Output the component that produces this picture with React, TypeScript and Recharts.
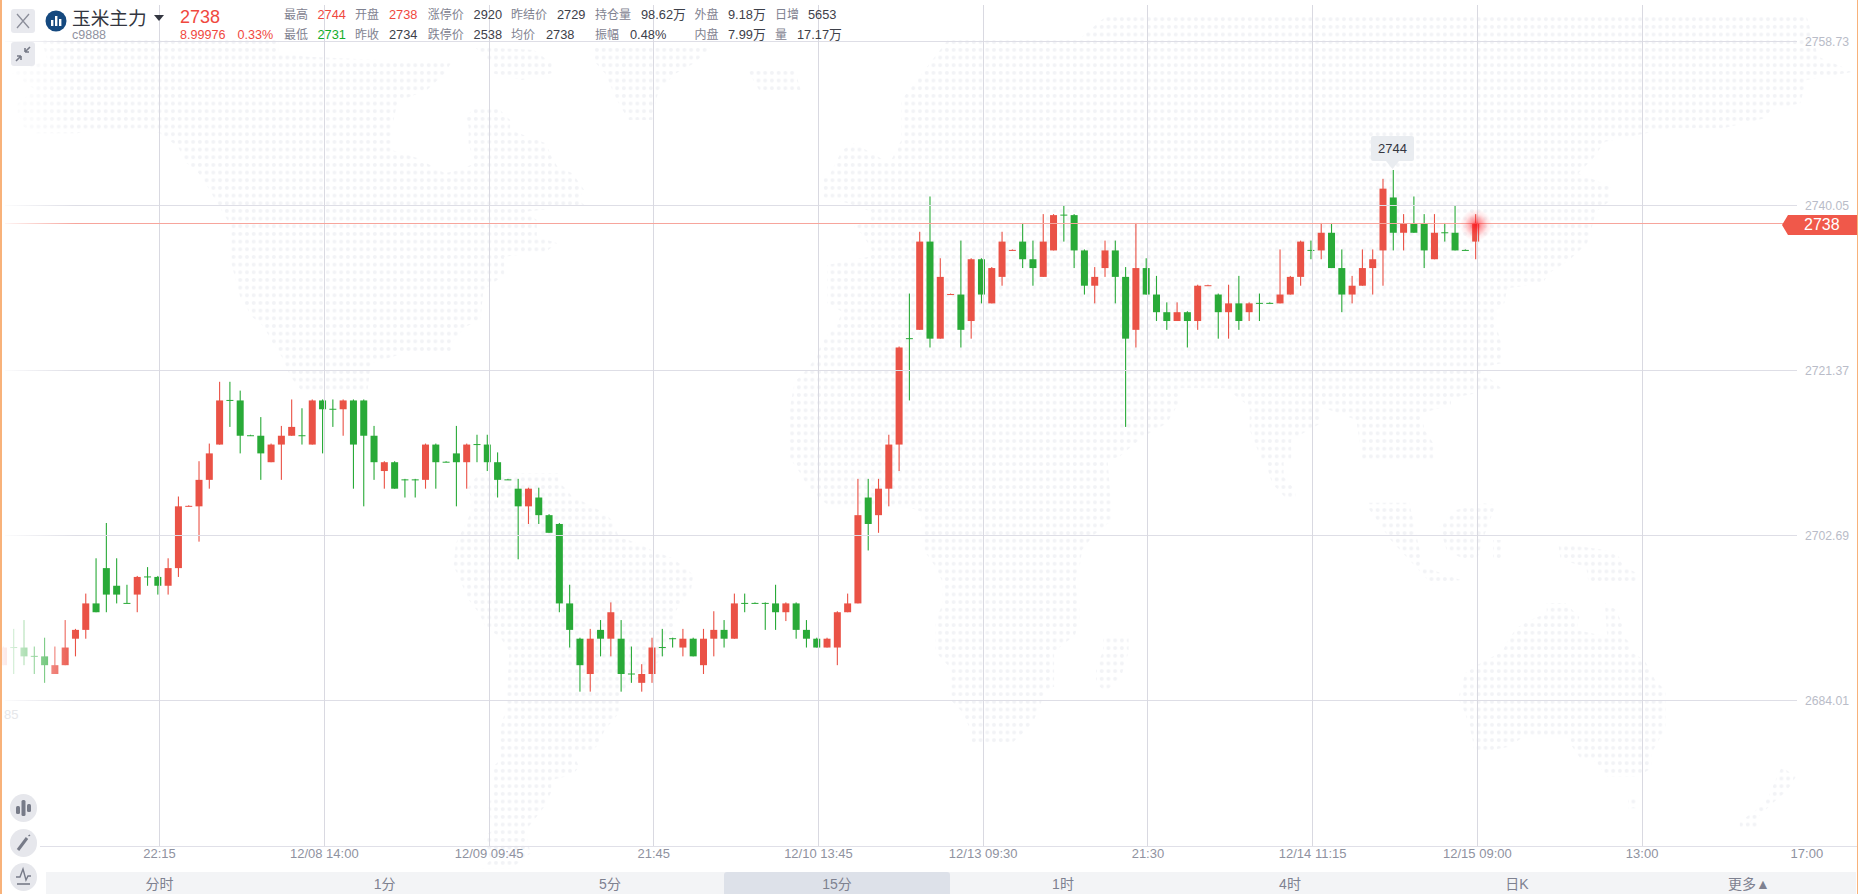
import React from "react";
import { ComposedChart, Bar, XAxis, YAxis, ReferenceLine } from "recharts";

// ---------- chart data ----------
const opens = [2688,2690,2690,2689,2689,2687,2688,2691,2692,2695,2699,2697,2695,2696,2698,2698,2697,2699,2706,2706,2709,2713,2718,2718,2714,2714,2711,2713,2714,2714,2713,2718,2717,2717,2718,2718,2714,2710,2711,2709,2709,2709,2713,2711,2712,2711,2713,2713,2711,2709,2708,2706,2707,2705,2704,2695,2691,2687,2692,2691,2691,2687,2686,2687,2690,2691,2690,2691,2688,2691,2692,2691,2695,2695,2695,2695,2694,2695,2692,2691,2690,2690,2694,2695,2707,2705,2708,2713,2725,2726,2736,2725,2730,2730,2727,2734,2729,2732,2735,2736,2734,2732,2735,2739,2739,2735,2731,2733,2735,2732,2726,2733,2730,2728,2727,2728,2727,2731,2730,2728,2729,2728,2729,2729,2729,2730,2732,2735,2735,2737,2733,2730,2731,2733,2735,2741,2737,2738,2738,2734,2737,2737,2735,2736];
const closes = [2690,2690,2689,2689,2688,2688,2690,2692,2695,2694,2696,2696,2695,2698,2698,2697,2699,2706,2706,2709,2712,2718,2718,2714,2714,2712,2713,2714,2715,2714,2718,2717,2717,2718,2713,2714,2711,2711,2708,2709,2709,2713,2711,2711,2711,2713,2713,2711,2709,2709,2706,2708,2705,2703,2695,2692,2688,2691,2691,2694,2687,2687,2687,2690,2690,2691,2691,2689,2691,2692,2691,2695,2695,2695,2695,2694,2695,2692,2691,2690,2691,2694,2695,2705,2704,2708,2713,2724,2725,2736,2725,2732,2730,2726,2734,2730,2733,2736,2735,2734,2733,2736,2739,2739,2735,2731,2732,2735,2732,2725,2733,2730,2728,2727,2728,2727,2731,2731,2728,2729,2727,2729,2729,2729,2730,2732,2736,2735,2737,2733,2730,2731,2733,2734,2742,2737,2738,2737,2735,2737,2737,2735,2735,2738];
const highs = [2690,2692,2693,2690,2691,2690,2693,2692,2696,2700,2704,2700,2697,2698,2699,2698,2700,2707,2706,2711,2713,2720,2720,2719,2714,2716,2713,2715,2718,2717,2718,2718,2718,2718,2718,2718,2715,2711,2711,2709,2709,2713,2713,2711,2715,2713,2714,2714,2712,2709,2709,2708,2708,2705,2704,2697,2691,2692,2693,2695,2693,2690,2688,2691,2692,2691,2692,2691,2692,2694,2693,2696,2696,2695,2695,2697,2695,2695,2693,2691,2691,2694,2696,2709,2709,2709,2714,2724,2730,2737,2741,2734,2730,2736,2734,2734,2733,2737,2735,2738,2736,2739,2739,2740,2739,2735,2733,2736,2736,2733,2738,2734,2732,2729,2729,2728,2731,2731,2730,2731,2732,2729,2730,2729,2735,2732,2736,2736,2738,2738,2735,2732,2735,2735,2743,2744,2739,2741,2739,2739,2738,2740,2735,2739];
const lows = [2688,2687,2688,2687,2686,2687,2688,2689,2691,2694,2694,2695,2695,2694,2697,2696,2696,2698,2706,2702,2708,2713,2715,2712,2714,2709,2711,2709,2714,2713,2713,2712,2715,2714,2708,2706,2709,2708,2708,2707,2707,2708,2708,2711,2706,2708,2711,2710,2707,2709,2700,2704,2704,2703,2694,2690,2685,2685,2689,2689,2685,2686,2685,2686,2689,2690,2689,2689,2687,2689,2690,2691,2694,2695,2692,2692,2693,2691,2690,2690,2690,2688,2694,2695,2701,2703,2706,2710,2718,2726,2724,2725,2730,2724,2725,2729,2729,2731,2735,2733,2731,2732,2735,2736,2733,2730,2729,2732,2729,2715,2724,2730,2727,2726,2727,2724,2726,2731,2725,2725,2726,2727,2727,2729,2729,2730,2731,2734,2734,2733,2728,2729,2731,2730,2731,2735,2735,2737,2733,2734,2736,2735,2735,2734];

const priceTicks = [2684.01, 2702.69, 2721.37, 2740.05, 2758.73];
const lastPrice = 2738;
const timeTickSlots = [15, 31, 47, 63, 79, 95, 111, 127, 143, 159, 175];
const timeTickLabels = ["22:15", "12/08 14:00", "12/09 09:45", "21:45", "12/10 13:45", "12/13 09:30", "21:30", "12/14 11:15", "12/15 09:00", "13:00", "17:00"];
const gridSlots = timeTickSlots.slice(0, -1);
const slotCount = 176;

const headerRows = [
  [["最高", 284, "l"], ["2744", 317.5, "r"], ["开盘", 355, "l"], ["2738", 389, "r"], ["涨停价", 427.7, "l"], ["2920", 473.6, "v"], ["昨结价", 511, "l"], ["2729", 557, "v"], ["持仓量", 595, "l"], ["98.62万", 641, "v"], ["外盘", 694.6, "l"], ["9.18万", 728, "v"], ["日增", 775, "l"], ["5653", 808, "v"]],
  [["最低", 284, "l"], ["2731", 317.5, "g"], ["昨收", 355, "l"], ["2734", 389, "v"], ["跌停价", 427.7, "l"], ["2538", 473.6, "v"], ["均价", 511, "l"], ["2738", 546, "v"], ["振幅", 595, "l"], ["0.48%", 630, "v"], ["内盘", 694.6, "l"], ["7.99万", 728, "v"], ["量", 775, "l"], ["17.17万", 797, "v"]],
];
const tabNames = ["分时", "1分", "5分", "15分", "1时", "4时", "日K", "更多▲"];
const tabCenters = [159.4, 384.6, 610, 837, 1063, 1290, 1517, 1749];

// ---------- background dot map outlines (decoration) ----------
type F = { ox: number; oy: number; sx: number; sy: number };
const Z9: F = { ox: 0, oy: 30, sx: 1.686, sy: 3 };
const Z10: F = { ox: 930, oy: 30, sx: 1.689, sy: 3 };
const Z11: F = { ox: 400, oy: 460, sx: 2.148, sy: 3 };
const Z12: F = { ox: 1130, oy: 460, sx: 2.148, sy: 3 };
const pts = (f: F, a: number[][]) => a.map(([x, y]) => `${(f.ox + x / f.sx).toFixed(1)},${(f.oy + y / f.sy).toFixed(1)}`).join(" ");

const landPolys = [
  pts(Z9, [[70,30],[470,30],[470,70],[520,80],[760,100],[750,130],[720,180],[670,215],[660,300],[660,360],[705,385],[730,410],[750,430],[775,420],[800,400],[790,340],[790,290],[785,260],[800,235],[840,235],[860,270],[860,300],[920,340],[930,380],[940,410],[965,430],[985,480],[975,510],[985,525],[885,545],[905,570],[905,620],[940,640],[920,665],[850,680],[850,735],[815,780],[810,870],[785,890],[760,940],[760,965],[690,965],[625,1000],[620,1080],[545,1085],[510,1085],[490,1040],[475,980],[460,940],[445,890],[425,860],[405,800],[390,700],[390,590],[380,560],[360,500],[350,470],[335,430],[315,400],[300,350],[270,310],[240,295],[165,300],[130,310],[60,310],[40,290],[30,250],[30,220],[60,180],[20,130],[80,90]]),
  pts(Z9, [[1000,50],[1200,50],[1170,100],[1140,130],[1110,180],[1100,270],[1060,270],[1040,210],[1020,130],[1000,90]]),
  pts(Z9, [[800,50],[900,60],[930,100],[930,130],[880,150],[830,130],[830,100]]),
  pts(Z9, [[1260,120],[1340,120],[1350,180],[1280,180]]),
  pts(Z11, [[170,40],[145,85],[160,135],[145,180],[120,250],[115,320],[125,345],[145,415],[170,460],[185,505],[215,530],[235,575],[230,690],[225,760],[215,810],[215,900],[200,920],[200,995],[190,1040],[200,1110],[180,1130],[195,1200],[175,1225],[240,1225],[280,1180],[270,1110],[285,1085],[310,1040],[325,995],[325,960],[370,945],[385,920],[370,880],[410,875],[425,855],[440,810],[470,760],[470,710],[480,690],[560,600],[570,580],[590,510],[590,460],[600,435],[625,390],[630,345],[610,320],[585,295],[540,270],[510,250],[470,230],[455,180],[440,160],[400,130],[370,110],[355,85],[340,65],[340,40]]),
  [
    pts(Z9, [[1520,210]]),
    pts(Z10, [[30,30],[250,30],[300,-45],[1480,-45],[1500,80],[1560,125],[1480,150],[1470,220],[1420,240],[1410,265],[1340,295],[1250,295],[1140,335],[1120,385],[1095,430],[1150,470],[1150,510],[1125,545],[1110,640],[1080,690],[1045,730],[1035,760],[975,775],[970,820],[950,850],[965,940],[965,1000],[925,1015],[965,1075],[880,1105],[880,1125],[830,1150],[835,1200],[850,1240],[850,1290],[730,1290],[720,1170],[660,1130],[660,1180],[610,1230],[610,1290],[560,1290],[540,1200],[540,1130],[500,1075],[420,1075],[420,1120],[400,1180],[360,1220],[320,1280],[300,1290]]),
    pts(Z11, [[1530,180],[1490,225],[1465,270],[1460,320],[1450,365],[1460,435],[1460,480],[1450,525],[1405,575],[1405,680],[1385,690],[1375,738],[1360,785],[1345,810],[1310,855],[1225,855],[1225,810],[1210,760],[1180,715],[1180,620],[1150,575],[1150,480],[1165,435],[1165,365],[1150,320],[1125,270],[1120,155],[1080,135],[950,135],[920,135],[895,110],[870,65],[860,40],[840,0]]),
    pts(Z9, [[1330,1290],[1330,1150],[1340,1055],[1355,1030],[1375,985],[1385,940],[1395,915],[1410,890],[1420,845],[1395,820],[1395,705],[1465,680],[1470,660],[1455,615],[1440,590],[1465,570],[1470,545],[1430,520],[1385,500],[1385,450],[1400,430],[1420,360],[1440,340],[1500,400],[1520,330]]),
  ].join(" "),
  pts(Z11, [[1510,525],[1565,525],[1565,575],[1550,645],[1535,670],[1515,695],[1495,670],[1495,620],[1510,575]]),
  pts(Z12, [[510,128],[600,128],[630,320],[710,360],[650,375],[600,300],[560,240],[535,190],[510,140]]),
  pts(Z12, [[700,150],[760,130],[785,135],[760,230],[745,300],[720,300],[680,270],[665,200]]),
  pts(Z12, [[780,240],[800,240],[800,300],[780,300]]),
  pts(Z12, [[920,250],[1020,270],[1050,290],[1060,320],[1090,340],[1090,370],[985,370],[980,320],[925,300]]),
  pts(Z12, [[290,0],[330,0],[330,50],[355,90],[355,115],[335,115],[305,70]]),
  pts(Z12, [[895,430],[935,430],[965,470],[960,510],[1025,530],[1020,430],[1045,450],[1060,505],[1060,530],[1075,550],[1075,575],[1105,600],[1120,640],[1130,665],[1150,690],[1150,805],[1140,830],[1130,855],[1120,880],[1120,925],[1090,950],[1025,950],[1010,925],[995,900],[970,900],[950,860],[940,830],[845,830],[815,860],[740,880],[735,830],[720,760],[705,715],[720,640],[740,620],[765,600],[800,575],[810,545],[830,505],[860,480],[895,460]]),
  pts(Z12, [[1400,920],[1430,950],[1420,975],[1405,1000],[1380,1030],[1350,1070],[1350,1110],[1310,1110],[1310,1085],[1345,1050],[1370,1015],[1385,965]]),
  pts(Z12, [[1070,1010],[1090,1010],[1090,1045],[1070,1045]]),
];

// ---------- table for the chart ----------
const chartData = Array.from({ length: slotCount }, (_, i) =>
  i < opens.length
    ? { slot: i, open: opens[i], close: closes[i], high: highs[i], low: lows[i], range: [lows[i], highs[i]] }
    : { slot: i, range: null }
);

const RED = "#ea5246";
const GREEN = "#29aa38";
const CANDLE_SHIFT = -2.1;

function Candle(props: any) {
  const { x, y, width, height, payload } = props;
  if (!payload || payload.high == null) return null;
  const { open, close, high, low } = payload;
  const up = close > open || (close === open && [0, 18, 92, 98, 117].includes(payload.slot));
  const color = up ? RED : GREEN;
  const unit = high > low ? height / (high - low) : 0;
  const top = y + (high - Math.max(open, close)) * unit;
  const bodyH = Math.abs(open - close) * unit;
  const cx = x + width / 2 + CANDLE_SHIFT;
  return (
    <g>
      <rect x={cx - 0.55} y={y - 1} width={1.1} height={height + 1} fill={color} />
      {bodyH > 0 ? (
        <rect x={cx - 3.5} y={top} width={7} height={bodyH} fill={color} />
      ) : (
        <rect x={cx - 3.5} y={top - 0.5} width={7} height={1} fill={color} />
      )}
    </g>
  );
}

function PriceTick(props: any) {
  const { x, y, payload } = props;
  return (
    <text x={x - 15} y={y + 4.5} textAnchor="start" fontSize={12.2} fill="#b9bcc8" fontFamily="Liberation Sans">
      {payload.value.toFixed(2)}
    </text>
  );
}

const abs = (s: React.CSSProperties): React.CSSProperties => ({ position: "absolute", ...s });
const CJK = "'Liberation Sans','Noto Sans CJK SC',sans-serif";

function Label({ x, cy, size, color, children, center, weight }: any) {
  return (
    <div style={abs({ left: x, top: cy - 12, height: 24, lineHeight: "24px", fontSize: size, color, whiteSpace: "nowrap", fontFamily: CJK, transform: center ? "translateX(-50%)" : undefined, fontWeight: weight ?? 400 })}>
      {children}
    </div>
  );
}

const kindColor: Record<string, string> = { l: "#7f8290", v: "#3d4049", r: "#f0483e", g: "#12ad2b" };

export default function App() {
  return (
    <div style={abs({ position: "fixed", left: 0, top: 0, width: 1858, height: 894, background: "#fff", overflow: "hidden" })}>
      {/* dot map */}
      <svg width={1858} height={894} style={abs({ left: 0, top: 0 })}>
        <defs>
          <pattern id="dots" patternUnits="userSpaceOnUse" width={6.73} height={7.67}>
            <circle cx={4.68} cy={3.86} r={2} fill="#f2f3f6" />
          </pattern>
        </defs>
        {landPolys.map((p, i) => (
          <polygon key={i} points={p} fill="url(#dots)" />
        ))}
      </svg>

      {/* chart */}
      <div style={abs({ left: 0, top: 0 })}>
        <ComposedChart width={1858} height={894} data={chartData} margin={{ top: 5, right: 0, bottom: 0, left: 0 }} barCategoryGap={0}>
          <XAxis
            dataKey="slot"
            type="category"
            xAxisId={0}
            ticks={timeTickSlots}
            interval={0}
            tickFormatter={(v: number) => timeTickLabels[timeTickSlots.indexOf(v)]}
            axisLine={false}
            tickLine={false}
            tickSize={0}
            tickMargin={3}
            height={48}
            tick={{ fontSize: 13, fill: "#8f92a0", fontFamily: "Liberation Sans" }}
          />
          <YAxis
            orientation="right"
            type="number"
            domain={[2667.51, 2762.81]}
            ticks={priceTicks}
            allowDataOverflow
            width={46}
            axisLine={false}
            tickLine={false}
            tick={<PriceTick />}
            interval={0}
          />
          {priceTicks.map((v) => (
            <ReferenceLine key={v} segment={[{ x: 0, y: v }, { x: 174, y: v }]} stroke="#dedee6" strokeWidth={1} shapeRendering="crispEdges" />
          ))}
          {gridSlots.map((s) => (
            <ReferenceLine key={s} x={s} stroke="#d9d9e1" strokeWidth={1} shapeRendering="crispEdges" />
          ))}
          <ReferenceLine segment={[{ x: 0, y: lastPrice }, { x: 174, y: lastPrice }]} stroke="#f7a59c" strokeWidth={1} shapeRendering="crispEdges" />
          <Bar dataKey="range" barSize={7} isAnimationActive={false} shape={<Candle />} />
        </ComposedChart>
      </div>

      {/* left fade */}
      <div style={abs({ left: 0, top: 40, width: 76, height: 806, background: "linear-gradient(to right, rgba(255,255,255,0.95), rgba(255,255,255,0))" })} />
      <div style={abs({ left: 4, top: 706, fontSize: 13, color: "#e6e7ea", fontFamily: CJK, lineHeight: "18px" })}>85</div>

      {/* axis line */}
      <div style={abs({ left: 40, top: 846, width: 1818, height: 1, background: "#e0e0e8" })} />

      {/* last price glow */}
      <div style={abs({ left: 1460, top: 209, width: 32, height: 32, borderRadius: 16, background: "radial-gradient(closest-side, rgba(255,20,30,0.8) 0%, rgba(255,30,40,0.45) 30%, rgba(255,60,70,0.12) 70%, rgba(255,60,70,0) 100%)" })} />

      {/* last price tag */}
      <svg width={76} height={20} style={abs({ left: 1782, top: 215 })}>
        <polygon points="0,10 6,0 76,0 76,20 6,20" fill="#f0584a" />
      </svg>
      <Label x={1804} cy={225} size={16} color="#fff">2738</Label>

      {/* high bubble */}
      <svg width={44} height={36} style={abs({ left: 1371, top: 136 })}>
        <path d="M2 0H41a2 2 0 0 1 2 2V23a2 2 0 0 1-2 2H28L21.5 33L15 25H2a2 2 0 0 1-2-2V2a2 2 0 0 1 2-2Z" fill="#e9ecf0" />
      </svg>
      <Label x={1392.5} cy={148.5} size={13} color="#333640" center>2744</Label>

      {/* header */}
      <div style={abs({ left: 11, top: 9, width: 23.5, height: 24, background: "#e8e9ee", borderRadius: 3 })} />
      <svg width={24} height={24} style={abs({ left: 11, top: 9 })}>
        <path d="M6 5L18 19M18 5L6 19" stroke="#8b8e9a" strokeWidth={1.3} fill="none" />
      </svg>
      <div style={abs({ left: 11, top: 42, width: 23.5, height: 24, background: "#e8e9ee", borderRadius: 3 })} />
      <svg width={24} height={24} style={abs({ left: 11, top: 42 })}>
        <path d="M5 19L10 14M10 14V18M10 14H6M19 5L14 10M14 10V6M14 10H18" stroke="#777b88" strokeWidth={1.6} fill="none" />
      </svg>
      <svg width={22} height={22} style={abs({ left: 45, top: 10 })}>
        <circle cx={11} cy={11} r={10.5} fill="#15497f" />
        <rect x={6} y={10} width={2.4} height={6} fill="#fff" />
        <rect x={10} y={6} width={2.4} height={10} fill="#fff" />
        <rect x={14} y={9} width={2.4} height={7} fill="#fff" />
      </svg>
      <Label x={72} cy={19} size={18.7} color="#333640">玉米主力</Label>
      <svg width={10} height={6} style={abs({ left: 154, top: 15 })}>
        <polygon points="0,0 10,0 5,6" fill="#333640" />
      </svg>
      <Label x={72} cy={35} size={12.5} color="#8f92a0">c9888</Label>
      <Label x={180} cy={17} size={18} color="#f0483e">2738</Label>
      <Label x={180} cy={35} size={12.6} color="#f0483e">8.99976</Label>
      <Label x={237.6} cy={35} size={12.6} color="#f0483e">0.33%</Label>
      {headerRows.map((row, r) =>
        row.map(([t, x, k]) => (
          <Label key={`${r}-${x}`} x={x} cy={15 + r * 20} size={k === "l" ? 12 : 12.8} color={kindColor[k as string]}>
            {t}
          </Label>
        ))
      )}

      {/* bottom tabs */}
      <div style={abs({ left: 46, top: 872, width: 1810, height: 22, background: "#f3f4f6" })} />
      <div style={abs({ left: 724, top: 872, width: 226, height: 22, background: "#dde1e9", borderRadius: "3px 3px 0 0" })} />
      {tabNames.map((t, i) => (
        <Label key={t} x={tabCenters[i]} cy={883.5} size={14} color="#7e8190" center>
          {t}
        </Label>
      ))}

      {/* side tools */}
      {[808, 843, 877].map((cy) => (
        <div key={cy} style={abs({ left: 9.5, top: cy - 14, width: 27, height: 28, borderRadius: 14, background: "#e6e7ec" })} />
      ))}
      <svg width={27} height={28} style={abs({ left: 9.5, top: 794 })}>
        <rect x={6} y={12} width={4} height={8} rx={1.5} fill="#777b88" />
        <rect x={11.5} y={6} width={4} height={16} rx={1.5} fill="#777b88" />
        <rect x={17} y={10} width={4} height={8} rx={1.5} fill="#777b88" />
      </svg>
      <svg width={27} height={28} style={abs({ left: 9.5, top: 829 })}>
        <path d="M8 21L17 9" stroke="#777b88" strokeWidth={3} fill="none" />
        <path d="M18.5 7l1.5-1" stroke="#777b88" strokeWidth={1.5} />
      </svg>
      <svg width={27} height={28} style={abs({ left: 9.5, top: 863 })}>
        <path d="M6 14H10L13 6L16 17L18 13H21" stroke="#777b88" strokeWidth={1.4} fill="none" />
        <path d="M7 21H20" stroke="#777b88" strokeWidth={1.6} />
      </svg>

      {/* window edge */}
      <div style={abs({ left: 0, top: 0, width: 1.5, height: 894, background: "#f8b27a" })} />
      <div style={abs({ left: 1856.5, top: 0, width: 1.5, height: 894, background: "#f8b27a" })} />
    </div>
  );
}
